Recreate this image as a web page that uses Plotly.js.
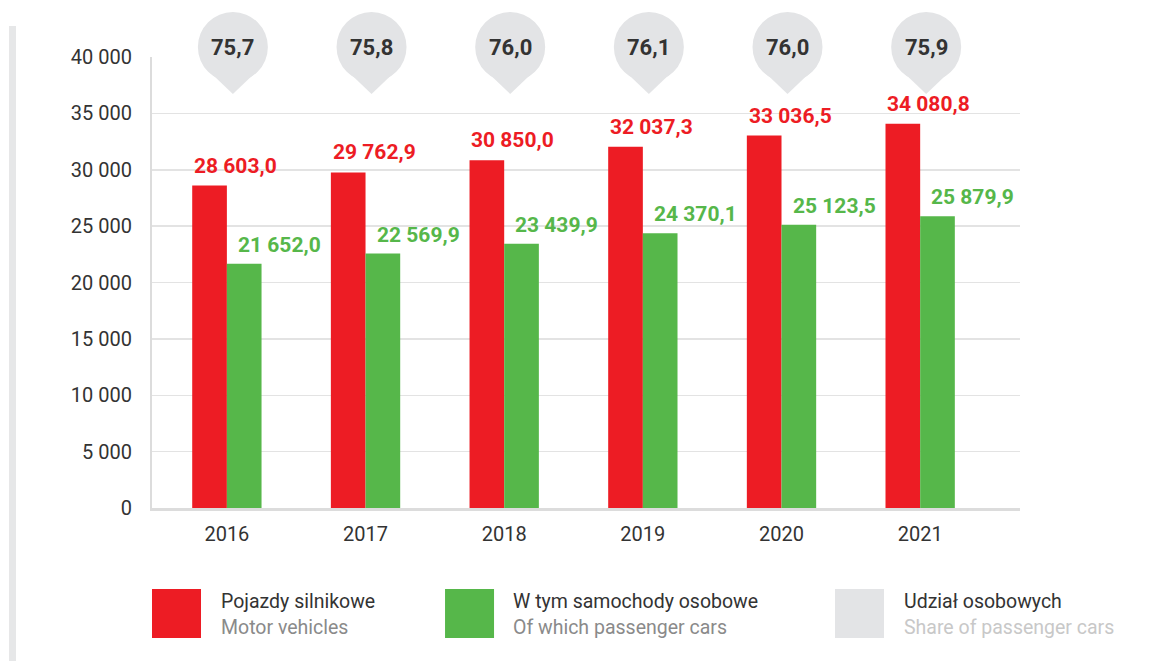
<!DOCTYPE html>
<html>
<head>
<meta charset="utf-8">
<script src="https://cdn.plot.ly/plotly-3.0.1.min.js"></script>
<style>
html,body{margin:0;padding:0;background:#fff;}
#chart{width:1176px;height:661px;}
</style>
</head>
<body>
<div id="chart"></div>
<script>
// ---- data ----
const years = ['2016', '2017', '2018', '2019', '2020', '2021'];
const motorVehicles = [28603.0, 29762.9, 30850.0, 32037.3, 33036.5, 34080.8];
const passengerCars = [21652.0, 22569.9, 23439.9, 24370.1, 25123.5, 25879.9];
const shareOfCars = [75.7, 75.8, 76.0, 76.1, 76.0, 75.9];
const yTickVals = [0, 5000, 10000, 15000, 20000, 25000, 30000, 35000, 40000];
const yTickText = ['0', '5 000', '10 000', '15 000', '20 000', '25 000', '30 000', '35 000', '40 000'];
const legendPl = ['Pojazdy silnikowe', 'W tym samochody osobowe', 'Udział osobowych'];
const legendEn = ['Motor vehicles', 'Of which passenger cars', 'Share of passenger cars'];

const RED = '#ED1C24', GREEN = '#56B74A', LGRAY = '#E3E4E6';
const FONT = 'Roboto, "DejaVu Sans", sans-serif';

function fmt(v) {
  const s = v.toFixed(1).split('.');
  const int = s[0].replace(/\B(?=(\d{3})+(?!\d))/g, ' ');
  return int + ',' + s[1];
}
function fmtShare(v) { return v.toFixed(1).replace('.', ','); }

const traces = [
  {type: 'bar', x: years, y: motorVehicles, marker: {color: RED}, hoverinfo: 'none', name: legendEn[0]},
  {type: 'bar', x: years, y: passengerCars, marker: {color: GREEN}, hoverinfo: 'none', name: legendEn[1]}
];

const annotations = [];
const shapes = [];

years.forEach((yr, i) => {
  annotations.push({x: i, y: motorVehicles[i], xref: 'x', yref: 'y', text: '<b>' + fmt(motorVehicles[i]) + '</b>',
    showarrow: false, xanchor: 'left', yanchor: 'middle', xshift: -35, yshift: 20,
    font: {family: FONT, size: 21, color: RED}});
  annotations.push({x: i, y: passengerCars[i], xref: 'x', yref: 'y', text: '<b>' + fmt(passengerCars[i]) + '</b>',
    showarrow: false, xanchor: 'left', yanchor: 'middle', xshift: 9, yshift: 19,
    font: {family: FONT, size: 21, color: GREEN}});
  // bubble (paper y so it is not clipped by the plot area)
  shapes.push({type: 'circle', xref: 'x', yref: 'paper', xsizemode: 'pixel', ysizemode: 'pixel',
    xanchor: i, yanchor: 1, x0: -29, x1: 41, y0: -25, y1: 45,
    fillcolor: LGRAY, line: {width: 0}, layer: 'above'});
  shapes.push({type: 'path', xref: 'x', yref: 'paper', xsizemode: 'pixel', ysizemode: 'pixel',
    xanchor: i, yanchor: 1, path: 'M -16,-16 L 28,-16 L 6,-37 Z',
    fillcolor: LGRAY, line: {width: 0}, layer: 'above'});
  annotations.push({x: i, y: 1, xref: 'x', yref: 'paper', text: '<b>' + fmtShare(shareOfCars[i]) + '</b>',
    showarrow: false, xanchor: 'center', yanchor: 'middle', xshift: 6, yshift: 10,
    font: {family: FONT, size: 22, color: '#333333'}});
});

// left decorative bar
shapes.push({type: 'rect', xref: 'paper', yref: 'paper', x0: -0.1647, x1: -0.1567, y0: -0.34, y1: 1.0687,
  fillcolor: '#E6E7E8', line: {width: 0}, layer: 'below'});

// custom legend
const boxColors = [RED, GREEN, LGRAY];
const boxX = [0, 0.3376, 0.7869];
const textX = [0.0772, 0.4136, 0.864];
const enColors = ['#8a8a8a', '#8a8a8a', '#c8c8c8'];
boxColors.forEach((c, k) => {
  shapes.push({type: 'rect', xref: 'paper', yref: 'paper', x0: boxX[k], x1: boxX[k] + 0.05645,
    y0: -0.2882, y1: -0.1796, fillcolor: c, line: {width: 0}});
  annotations.push({x: textX[k], y: -0.2084, xref: 'paper', yref: 'paper', text: legendPl[k],
    showarrow: false, xanchor: 'left', yanchor: 'middle', font: {family: FONT, size: 19.5, color: '#333333'}});
  annotations.push({x: textX[k], y: -0.2639, xref: 'paper', yref: 'paper', text: legendEn[k],
    showarrow: false, xanchor: 'left', yanchor: 'middle', font: {family: FONT, size: 19.5, color: enColors[k]}});
});

const layout = {
  width: 1176, height: 661,
  margin: {l: 152, r: 156, t: 57, b: 153},
  paper_bgcolor: '#ffffff', plot_bgcolor: '#ffffff',
  showlegend: false,
  barmode: 'group', bargap: 0.5, bargroupgap: 0,
  font: {family: FONT, color: '#333333'},
  xaxis: {type: 'category', range: [-0.54, 5.72], showgrid: false, zeroline: false,
    showline: true, linecolor: '#DCDCDC', linewidth: 3, ticks: '',
    tickfont: {family: FONT, size: 20, color: '#333333'}, ticklabelstandoff: 6, fixedrange: true},
  yaxis: {range: [0, 40000], tickvals: yTickVals, ticktext: yTickText,
    showgrid: true, gridcolor: '#E3E3E3', gridwidth: 1.5, zeroline: false,
    showline: true, linecolor: '#DCDCDC', linewidth: 2, ticks: '',
    ticklabelstandoff: 14,
    tickfont: {family: FONT, size: 20, color: '#333333'}, fixedrange: true},
  shapes: shapes,
  annotations: annotations
};

Plotly.newPlot('chart', traces, layout, {displayModeBar: false, staticPlot: true});
</script>
</body>
</html>
